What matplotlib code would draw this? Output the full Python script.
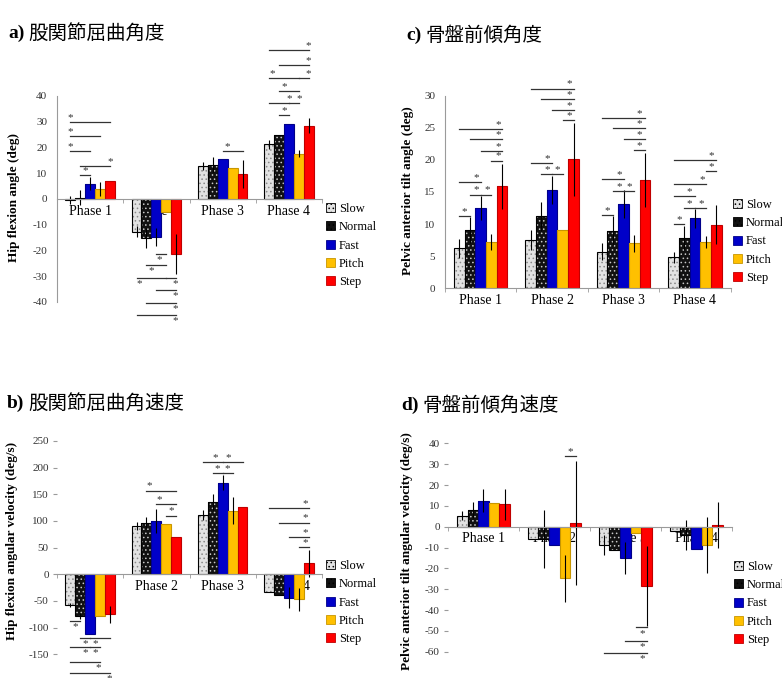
import matplotlib.pyplot as plt
import matplotlib.patches as mpatches
import numpy as np

plt.rcParams['font.family'] = ['Liberation Serif', 'Noto Sans CJK JP']
plt.rcParams['axes.unicode_minus'] = False
plt.rcParams['hatch.linewidth'] = 0.6

fases = ['Phase 1', 'Phase 2', 'Phase 3', 'Phase 4']
grupos = ['Slow', 'Normal', 'Fast', 'Pitch', 'Step']

# a) hip flexion angle (deg), one list per group, one value per phase
a_slow = [-0.3, -12.7, 12.9, 21.3]
a_normal = [0.5, -15.2, 13.3, 24.8]
a_fast = [6.0, -14.8, 15.5, 29.0]
a_pitch = [3.8, -4.9, 11.9, 17.6]
a_step = [7.0, -21.3, 9.6, 28.5]
a_err = [[1.6, 2.2, 1.5, 1.8], [3.0, 3.9, 3.0, 0], [2.6, 3.4, 0, 0],
         [2.7, 0, 0, 1.3], [0, 7.7, 5.5, 3.0]]

# b) hip flexion angular velocity (deg/s)
b_slow = [-57.5, 90.6, 111, -32.5]
b_normal = [-78, 97, 135, -38.8]
b_fast = [-112.5, 100, 172, -43.8]
b_pitch = [-78, 94.4, 119, -47]
b_step = [-75, 69.4, 125.6, 20.6]
b_err = [[3, 8, 9, 0], [5, 11, 15, 0], [0, 22, 14, 19],
         [0, 0, 25, 22], [16, 0, 0, 25]]

# c) pelvic anterior tilt angle (deg)
c_slow = [6.2, 7.5, 5.7, 4.8]
c_normal = [9.1, 11.2, 9.0, 7.8]
c_fast = [12.5, 15.3, 13.1, 10.9]
c_pitch = [7.2, 9.1, 7.0, 7.2]
c_step = [15.9, 20.1, 16.9, 9.9]
c_err = [[1.5, 1.6, 1.3, 0.8], [2.0, 2.3, 2.2, 1.9], [1.8, 2.2, 2.2, 1.5],
         [1.2, 0, 1.3, 1.0], [3.5, 5.7, 4.2, 3.0]]

# d) pelvic anterior tilt angular velocity (deg/s)
d_slow = [5.3, -6.1, -8.8, -2.1]
d_normal = [8.0, -6.0, -11.2, -3.8]
d_fast = [12.5, -8.8, -15.2, -10.9]
d_pitch = [11.4, -24.8, -2.9, -8.8]
d_step = [10.7, 1.8, -28.5, 0.8]
d_err = [[2.2, 0, 4.8, 0], [4.0, 14, 0, 7.2], [5.5, 0, 7.7, 0],
         [0, 11.3, 0, 13.3], [7.5, 29.6, 19.2, 10.9]]

# significance bars: (phase, group i, group j, level, where the star sits)
a_sig = [(0, 0, 4, 30, 0), (0, 0, 3, 24.3, 0), (0, 0, 2, 18.5, 0),
         (0, 1, 4, 12.9, 4), (0, 1, 2, 9.3, 1.5),
         (1, 2, 3, -21.3, 2.3), (1, 1, 3, -25.5, 1.5), (1, 0, 3, -30.5, 0.3),
         (1, 3, 4, -30.5, 3.9), (1, 2, 4, -35.2, 3.9), (1, 1, 4, -40.4, 3.9),
         (1, 0, 4, -45, 3.9),
         (2, 2, 4, 18.7, 2.5),
         (3, 1, 2, 32.5, 1.5), (3, 0, 2, 37.3, 2), (3, 2, 3, 37.3, 3),
         (3, 1, 3, 41.8, 1.5), (3, 0, 3, 47, 0.3), (3, 3, 4, 47, 4),
         (3, 1, 4, 51.9, 4), (3, 0, 4, 57.7, 4)]
b_sig = [(0, 0, 1, -88, 0.5), (0, 1, 2, -119, 1.5), (0, 2, 4, -119, 2.5),
         (0, 0, 2, -136.5, 1.5), (0, 2, 3, -136.5, 2.5), (0, 0, 3, -164, 2.8),
         (0, 0, 4, -185, 3.9),
         (1, 3, 4, 110, 3.5), (1, 2, 4, 131.9, 2.3), (1, 1, 4, 156.9, 1.3),
         (2, 1, 2, 189.4, 1.5), (2, 2, 3, 189.4, 2.5), (2, 0, 2, 210, 1.3),
         (2, 2, 4, 210, 2.6),
         (3, 0, 4, 123.8, 3.6), (3, 1, 4, 96.9, 3.6), (3, 2, 4, 70.6, 3.6),
         (3, 3, 4, 50.6, 3.6)]
c_sig = [(0, 0, 1, 11.2, 0.5), (0, 1, 2, 14.6, 1.6), (0, 2, 3, 14.6, 2.6),
         (0, 0, 2, 16.5, 1.6), (0, 3, 4, 19.9, 3.6), (0, 2, 4, 21.4, 3.6),
         (0, 1, 4, 23.2, 3.6), (0, 0, 4, 24.8, 3.6),
         (1, 0, 2, 19.5, 1.5), (1, 1, 2, 17.8, 1.5), (1, 2, 3, 17.8, 2.5),
         (1, 3, 4, 26.2, 3.6), (1, 2, 4, 27.8, 3.6), (1, 1, 4, 29.5, 3.6),
         (1, 0, 4, 31.1, 3.6),
         (2, 0, 1, 11.4, 0.5), (2, 0, 2, 17.0, 1.6), (2, 1, 2, 15.2, 1.6),
         (2, 2, 3, 15.2, 2.5), (2, 3, 4, 21.5, 3.5), (2, 2, 4, 23.2, 3.5),
         (2, 1, 4, 24.9, 3.5), (2, 0, 4, 26.5, 3.5),
         (3, 0, 1, 10, 0.5), (3, 1, 2, 12.5, 1.5), (3, 2, 3, 12.5, 2.6),
         (3, 0, 2, 14.3, 1.5), (3, 0, 3, 16.2, 2.7), (3, 3, 4, 18.3, 3.5),
         (3, 0, 4, 20, 3.5)]
d_sig = [(1, 3, 4, 33.9, 3.5), (2, 3, 4, -48.3, 3.6), (2, 2, 4, -54.7, 3.6),
         (2, 0, 4, -60.5, 3.6)]

ANCHO = 0.15
relleno = ['#e2e2e2', '#111111', '#0000c8', '#ffc000', '#ff0000']
trama = ['....', '....', None, None, None]
color_trama = ['#8a8a8a', '#c8c8c8', '#0000c8', '#ffc000', '#ff0000']
borde = ['black', 'black', '#00008a', '#c89600', '#c00000']
GRIS = '#9a9a9a'


def W(px):
    return px / 782


def H(px):
    return 1 - px / 678


def panel(fig, rect, valores, errores, signos, ylim, yticks, espina):
    ax = fig.add_axes(rect)
    x = np.arange(len(fases))
    for k in range(len(grupos)):
        xs = x + (k - 2) * ANCHO
        ax.bar(xs, valores[k], ANCHO, color=relleno[k], hatch=trama[k],
               edgecolor=color_trama[k], linewidth=0)
        ax.bar(xs, valores[k], ANCHO, fill=False, edgecolor=borde[k], linewidth=0.8)
        ax.errorbar(xs, valores[k], yerr=errores[k], fmt='none',
                    ecolor='black', elinewidth=0.8, capsize=0)
    for fase, i, j, nivel, pos in signos:
        x0 = fase + (i - 2) * ANCHO
        x1 = fase + (j - 2) * ANCHO
        ax.plot([x0, x1], [nivel, nivel], color='#333333', lw=0.9)
        xe = fase + (pos - 2) * ANCHO
        if nivel > 0:
            ax.annotate('*', (xe, nivel), xytext=(0, 0), textcoords='offset points',
                        ha='center', va='bottom', fontsize=8, color='#333333')
        else:
            ax.annotate('*', (xe, nivel), xytext=(0, -1), textcoords='offset points',
                        ha='center', va='top', fontsize=8, color='#333333')
    ax.set_xlim(-0.5, 3.5)
    ax.set_ylim(*ylim)
    ax.set_yticks(yticks)
    ax.set_xticks(x)
    ax.set_xticklabels(fases, fontsize=7.5, color='#333333')
    ax.set_xticks(np.arange(-0.5, 4, 1), minor=True)
    ax.tick_params(axis='x', which='major', length=0, pad=4)
    ax.tick_params(axis='x', which='minor', length=3, color=GRIS)
    ax.tick_params(axis='y', labelsize=8, labelcolor='#333333', color=GRIS)
    for s in ['top', 'right']:
        ax.spines[s].set_visible(False)
    ax.spines['bottom'].set_position(('data', 0))
    ax.spines['bottom'].set_color(GRIS)
    if espina:
        ax.spines['left'].set_bounds(yticks[0], yticks[-1])
        ax.spines['left'].set_color(GRIS)
        ax.tick_params(axis='y', length=0, pad=7)
    else:
        ax.spines['left'].set_visible(False)
        ax.tick_params(axis='y', length=3, pad=3)
    ax.set_axisbelow(True)
    ax.patch.set_alpha(0)
    return ax


def titulo(fig, x, y, letra, texto):
    t = fig.text(W(x), H(y), letra, fontsize=14, fontweight='bold', va='center',
                 family='Liberation Serif')
    plt.annotate(texto, xy=(1, 0.5), xycoords=t, xytext=(3, 0),
                 textcoords='offset points', va='center', fontsize=14,
                 family='Noto Sans CJK JP')


def leyenda(fig, x, y):
    manijas = [mpatches.Patch(facecolor=relleno[k], hatch=trama[k],
                              edgecolor=borde[k] if k > 1 else 'black',
                              linewidth=0.6) for k in range(len(grupos))]
    fig.legend(manijas, grupos, loc='upper left', bbox_to_anchor=(W(x), H(y)),
               frameon=False, fontsize=9, handlelength=0.75, handleheight=0.75,
               handletextpad=0.3, labelspacing=0.5, borderpad=0, borderaxespad=0)


def main():
    fig = plt.figure(figsize=(7.82, 6.78), dpi=100)

    panel(fig, [W(57), H(320), 265 / 782, 275.5 / 678],
          [a_slow, a_normal, a_fast, a_pitch, a_step], a_err, a_sig,
          (-47, 60), list(range(-40, 41, 10)), True)
    panel(fig, [W(445), H(288.3), 285.7 / 782, (288.3 - 76.4) / 678],
          [c_slow, c_normal, c_fast, c_pitch, c_step], c_err, c_sig,
          (0, 33), list(range(0, 31, 5)), True)
    panel(fig, [W(57), H(678.8), 265 / 782, (678.8 - 435.6) / 678],
          [b_slow, b_normal, b_fast, b_pitch, b_step], b_err, b_sig,
          (-196, 260), list(range(-150, 251, 50)), False)
    panel(fig, [W(448), H(664.2), 283.7 / 782, (664.2 - 430.9) / 678],
          [d_slow, d_normal, d_fast, d_pitch, d_step], d_err, d_sig,
          (-66, 46), list(range(-60, 41, 10)), False)

    titulo(fig, 8, 33, 'a)', '股関節屈曲角度')
    titulo(fig, 406, 35, 'c)', '骨盤前傾角度')
    titulo(fig, 7, 403, 'b)', '股関節屈曲角速度')
    titulo(fig, 401, 405, 'd)', '骨盤前傾角速度')

    ejes_y = [(14, 197, 'Hip flexion angle (deg)'),
              (408, 191, 'Pelvic anterior tilt angle (deg)'),
              (12, 541, 'Hip flexion angular velocity (deg/s)'),
              (407, 551, 'Pelvic anterior tilt angular velocity (deg/s)')]
    for x, y, txt in ejes_y:
        fig.text(W(x), H(y), txt, rotation=90, ha='center', va='center',
                 fontsize=9.5, fontweight='bold')

    leyenda(fig, 326, 203)
    leyenda(fig, 733, 199)
    leyenda(fig, 326, 560)
    leyenda(fig, 734, 561)

    fig.savefig('out.png', dpi=100)


if __name__ == '__main__':
    main()
